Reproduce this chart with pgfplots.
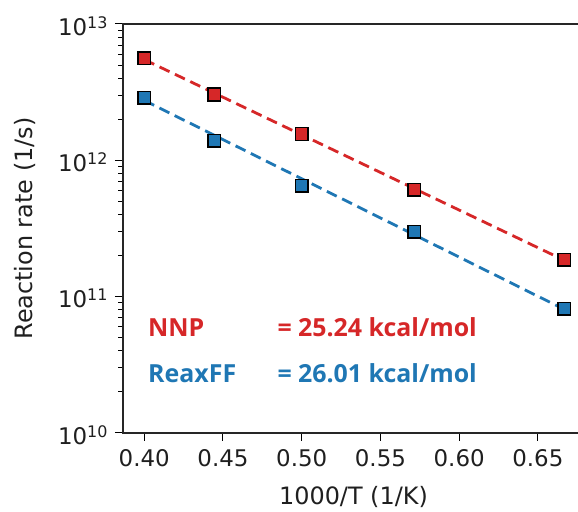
\documentclass[border=0pt]{standalone}
\usepackage{fontspec}
\setmainfont{DejaVu Sans}
\newfontfamily\annfont{Open Sans}
\usepackage{pgfplots}
\pgfplotsset{compat=1.18}
\definecolor{tred}{HTML}{D62728}
\definecolor{tblue}{HTML}{1F77B4}
\newcommand{\ex}[1]{10\raisebox{7bp}{\fontsize{16}{16}\selectfont #1}}
\begin{document}
\begin{tikzpicture}
\path[use as bounding box] (-123bp,-79bp) rectangle (455bp,433bp);
\begin{axis}[
  scale only axis,
  at={(0,0)}, anchor=south west,
  width=457.4bp, height=409bp,
  xmin=0.3865, xmax=0.677,
  ymode=log, ymin=1e10, ymax=1e13,
  xtick={0.40,0.45,0.50,0.55,0.60,0.65},
  ytick={1e10,1e11,1e12,1e13},
  yticklabels={\ex{10},\ex{11},\ex{12},\ex{13}},
  xticklabel style={yshift=-5bp, /pgf/number format/.cd, fixed, fixed zerofill, precision=2, assume math mode=true},
  yticklabel style={xshift=-4bp, yshift=-2bp},
  tick label style={font=\fontsize{23}{26}\selectfont, text=black!88},
  label style={font=\fontsize{24}{28}\selectfont, text=black!88},
  xlabel={1000/T (1/K)},
  ylabel={Reaction rate (1/s)},
  xlabel style={at={(axis description cs:0.504,-0.176)}, anchor=base},
  ylabel style={at={(axis description cs:-0.214,0.5)}, anchor=center, rotate=0},
  tick pos=left,
  tick align=outside,
  major tick length=8bp,
  minor tick length=4.5bp,
  every tick/.style={black, line width=1bp},
  axis line style={black!85, line width=1.3bp},
]
\addplot[tred, dashed, line width=2.8bp, dash pattern=on 11bp off 6bp, forget plot] coordinates {(0.4,5.48e12) (0.6667,1.85e11)};
\addplot[tblue, dashed, line width=2.8bp, dash pattern=on 11bp off 6bp, forget plot] coordinates {(0.4,2.75e12) (0.6667,8.07e10)};
\addplot[only marks, mark=square*, mark size=6.3bp, mark options={fill=tred, draw=black, line width=1.5bp}] coordinates {
(0.4,5.6e12) (0.4444,3.04e12) (0.5,1.56e12) (0.5714,6.08e11) (0.6667,1.87e11)};
\addplot[only marks, mark=square*, mark size=6.3bp, mark options={fill=tblue, draw=black, line width=1.5bp}] coordinates {
(0.4,2.87e12) (0.4444,1.39e12) (0.5,6.5e11) (0.5714,2.99e11) (0.6667,8.17e10)};
\node[anchor=base west, text=tred, font=\annfont\fontsize{25}{28}\selectfont\bfseries, inner sep=0pt] at (axis cs:0.4024,5.09e10) {NNP};
\node[anchor=base west, text=tred, font=\annfont\fontsize{25}{28}\selectfont\bfseries, inner sep=0pt] at (axis cs:0.4845,5.09e10) {= 25.24 kcal/mol};
\node[anchor=base west, text=tblue, font=\annfont\fontsize{25}{28}\selectfont\bfseries, inner sep=0pt] at (axis cs:0.4024,2.34e10) {ReaxFF};
\node[anchor=base west, text=tblue, font=\annfont\fontsize{25}{28}\selectfont\bfseries, inner sep=0pt] at (axis cs:0.4845,2.34e10) {= 26.01 kcal/mol};
\end{axis}
\end{tikzpicture}
\end{document}
